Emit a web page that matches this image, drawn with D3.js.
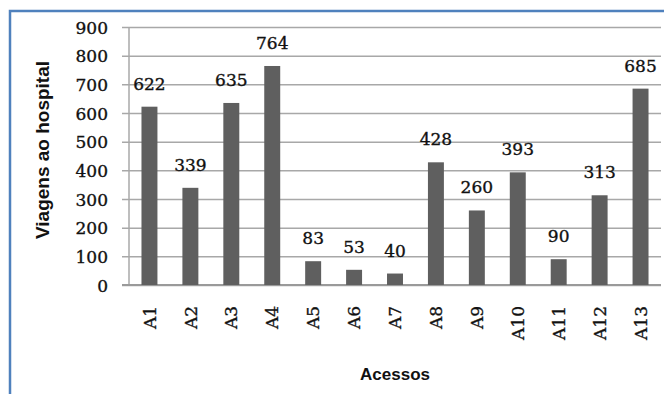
<!DOCTYPE html>
<html>
<head>
<meta charset="utf-8">
<script src="https://cdn.jsdelivr.net/npm/d3@7"></script>
<style>
  html, body { margin: 0; padding: 0; background: #fff; }
  svg { display: block; }
</style>
</head>
<body>
<div id="chart"></div>
<script>
// Data
const categories = ['A1', 'A2', 'A3', 'A4', 'A5', 'A6', 'A7', 'A8', 'A9', 'A10', 'A11', 'A12', 'A13'];
const viagens = [622, 339, 635, 764, 83, 53, 40, 428, 260, 393, 90, 313, 685];
const yTicks = [0, 100, 200, 300, 400, 500, 600, 700, 800, 900];

const width = 664;
const height = 394;
const plot = { left: 129, right: 661, top: 27, bottom: 285 };

const svg = d3.select('#chart')
    .append('svg')
    .attr('width', width)
    .attr('height', height);

// Frame (blue border, top + left visible)
svg.append('path')
    .attr('d', `M10,${height} L10,11 L${width},11`)
    .attr('fill', 'none')
    .attr('stroke', '#4f81bd')
    .attr('stroke-width', 2.5);

const x = d3.scaleBand()
    .domain(categories)
    .range([plot.left, plot.right])
    .paddingInner(0.61)
    .paddingOuter(0.305);

const y = d3.scaleLinear()
    .domain([0, 900])
    .range([plot.bottom, plot.top]);

const serif = '"DejaVu Serif", serif';
const sans = '"Liberation Sans", Arial, sans-serif';

// slightly heavier serif text, closer to the scanned look
const serifStyle = sel => sel
    .style('font-family', serif)
    .style('font-size', '17px')
    .attr('fill', '#111')
    .attr('stroke', '#111')
    .attr('stroke-width', 0.35);

// Gridlines + y ticks
const yAxis = svg.append('g')
    .attr('transform', `translate(${plot.left},0)`)
    .call(d3.axisLeft(y)
        .tickValues(yTicks)
        .tickSize(-(plot.right - plot.left))
        .tickSizeOuter(0)
        .tickPadding(0)
        .tickFormat(d3.format('d')));

yAxis.select('.domain').remove();
yAxis.selectAll('.tick line')
    .attr('x1', -7)
    .attr('stroke', '#a8a8a8')
    .attr('stroke-width', 1.5);
yAxis.selectAll('.tick text')
    .attr('x', -21)
    .attr('dy', '0.36em')
    .call(serifStyle);

// y axis line
svg.append('line')
    .attr('x1', plot.left).attr('x2', plot.left)
    .attr('y1', plot.top).attr('y2', plot.bottom)
    .attr('stroke', '#a8a8a8')
    .attr('stroke-width', 1.5);

// x axis line
svg.append('line')
    .attr('x1', plot.left - 7).attr('x2', plot.right)
    .attr('y1', plot.bottom).attr('y2', plot.bottom)
    .attr('stroke', '#9a9a9a')
    .attr('stroke-width', 2);

// Bars
svg.append('g')
    .selectAll('rect')
    .data(viagens)
    .join('rect')
    .attr('x', (d, i) => x(categories[i]))
    .attr('y', d => y(d))
    .attr('width', x.bandwidth())
    .attr('height', d => y(0) - y(d))
    .attr('fill', '#5f5f5f');

// Data labels
svg.append('g')
    .selectAll('text')
    .data(viagens)
    .join('text')
    .attr('x', (d, i) => x(categories[i]) + x.bandwidth() / 2)
    .attr('y', d => y(d) - 17)
    .attr('text-anchor', 'middle')
    .call(serifStyle)
    .text(d => d);

// Category labels (rotated)
svg.append('g')
    .selectAll('text')
    .data(categories)
    .join('text')
    .attr('transform', d => `translate(${x(d) + x.bandwidth() / 2},306) rotate(-90)`)
    .attr('text-anchor', 'end')
    .attr('dy', '0.36em')
    .call(serifStyle)
    .text(d => d);

// Axis titles
svg.append('text')
    .attr('x', (plot.left + plot.right) / 2)
    .attr('y', 380)
    .attr('text-anchor', 'middle')
    .style('font-family', sans)
    .style('font-weight', 'bold')
    .style('font-size', '17px')
    .attr('fill', '#111')
    .text('Acessos');

svg.append('text')
    .attr('transform', 'translate(49,150) rotate(-90)')
    .attr('text-anchor', 'middle')
    .style('font-family', sans)
    .style('font-weight', 'bold')
    .style('font-size', '19px')
    .attr('fill', '#111')
    .text('Viagens ao hospital');
</script>
</body>
</html>
